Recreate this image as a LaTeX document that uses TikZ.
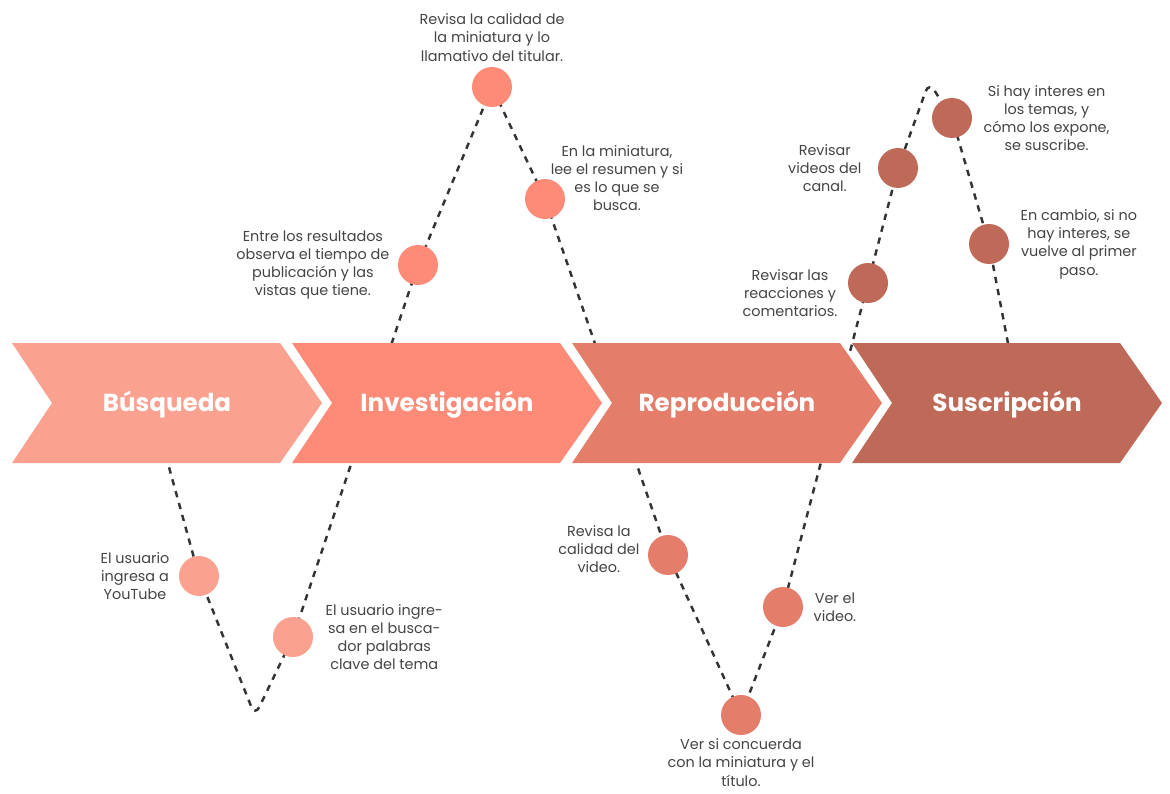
\documentclass[tikz,border=0pt]{standalone}
\usepackage{fontspec}
\setmainfont{Poppins}
\usetikzlibrary{positioning}
\pgfdeclarelayer{back}
\pgfsetlayers{back,main}
\definecolor{busq}{HTML}{FBA190}
\definecolor{inve}{HTML}{FE8B77}
\definecolor{repr}{HTML}{E57D6B}
\definecolor{susc}{HTML}{BF6958}
\definecolor{notegray}{HTML}{444444}
\definecolor{wavegray}{HTML}{333333}

\begin{document}
\begin{tikzpicture}[
  x=0.02cm, y=-0.02cm,
  node distance=0.2cm,
  dot/.style={circle,minimum size=0.8cm,inner sep=0pt},
  note/.style={align=center,text=notegray,inner sep=0pt,
    font=\fontsize{8.2}{10.4}\selectfont},
  phase/.style={text=white,font=\fontsize{14}{16}\selectfont\bfseries},
  wave/.style={wavegray,line width=1.4pt,dash pattern=on 3.6pt off 3.4pt,
    rounded corners=0.2cm}
]
  \useasboundingbox (0,0) rectangle (1170,794);

  % chevrons
  \fill[busq] (12,343) -- ++(268,0) -- ++(42,60) -- ++(-42,60) -- ++(-268,0) -- ++(40,-60) -- cycle;
  \fill[inve] (292,343) -- ++(268,0) -- ++(42,60) -- ++(-42,60) -- ++(-268,0) -- ++(40,-60) -- cycle;
  \fill[repr] (572,343) -- ++(268,0) -- ++(42,60) -- ++(-42,60) -- ++(-268,0) -- ++(40,-60) -- cycle;
  \fill[susc] (852,343) -- ++(268,0) -- ++(42,60) -- ++(-42,60) -- ++(-268,0) -- ++(40,-60) -- cycle;

  \node[phase] (busqueda)      at (167,405) {Búsqueda};
  \node[phase] (investigacion) at (447,405) {Investigación};
  \node[phase] (reproduccion)  at (727,405) {Reproducción};
  \node[phase] (suscripcion)   at (1007,405) {Suscripción};

  % steps
  \node[dot,fill=busq] (b1) at (199,576) {};
  \node[dot,fill=busq] (b2) at (293,637) {};
  \node[dot,fill=inve] (i1) at (418,265) {};
  \node[dot,fill=inve] (i2) at (492,87) {};
  \node[dot,fill=inve] (i3) at (545,199) {};
  \node[dot,fill=repr] (r1) at (668,555) {};
  \node[dot,fill=repr] (r2) at (741,715) {};
  \node[dot,fill=repr] (r3) at (783,607) {};
  \node[dot,fill=susc] (s1) at (868,283) {};
  \node[dot,fill=susc] (s2) at (898,168) {};
  \node[dot,fill=susc] (s3) at (952,118) {};
  \node[dot,fill=susc] (s4) at (989,244) {};

  \coordinate (w0) at (156,420);
  \coordinate (v1) at (255,716);
  \coordinate (pk) at (929,82);
  \coordinate (w1) at (1015,380);

  \begin{pgfonlayer}{back}
    \draw[wave] (w0) -- (b1.center) -- (v1) -- (b2.center) -- (i1.center)
      -- (i2.center) -- (i3.center) -- (r1.center) -- (r2.center)
      -- (r3.center) -- (s1.center) -- (s2.center) -- (pk)
      -- (s3.center) -- (s4.center) -- (w1);
  \end{pgfonlayer}

  % notes
  \node[note,left=0.18cm of b1] (tb1) {El usuario\\ingresa a\\YouTube};
  \node[note,right=0.24cm of b2] (tb2) {El usuario ingre-\\sa en el busca-\\dor palabras\\clave del tema};
  \node[note,left=0.16cm of i1] (ti1) {Entre los resultados\\observa el tiempo de\\publicación y las\\vistas que tiene.};
  \node[note,above=0.1cm of i2] (ti2) {Revisa la calidad de\\la miniatura y lo\\llamativo del titular.};
  \node[note] (ti3) at (617,178) {En la miniatura,\\lee el resumen y si\\es lo que se\\busca.};
  \node[note,left=0.16cm of r1,yshift=0.12cm] (tr1) {Revisa la\\calidad del\\video.};
  \node[note,below=0.06cm of r2] (tr2) {Ver si concuerda\\con la miniatura y el\\título.};
  \node[note,right=0.2cm of r3] (tr3) {Ver el\\video.};
  \node[note,left=0.2cm of s1,yshift=-0.2cm] (ts1) {Revisar las\\reacciones y\\comentarios.};
  \node[note,left=0.32cm of s2] (ts2) {Revisar\\videos del\\canal.};
  \node[note,right=0.22cm of s3] (ts3) {Si hay interes en\\los temas, y\\cómo los expone,\\se suscribe.};
  \node[note,right=0.22cm of s4] (ts4) {En cambio, si no\\hay interes, se\\vuelve al primer\\paso.};
\end{tikzpicture}
\end{document}
